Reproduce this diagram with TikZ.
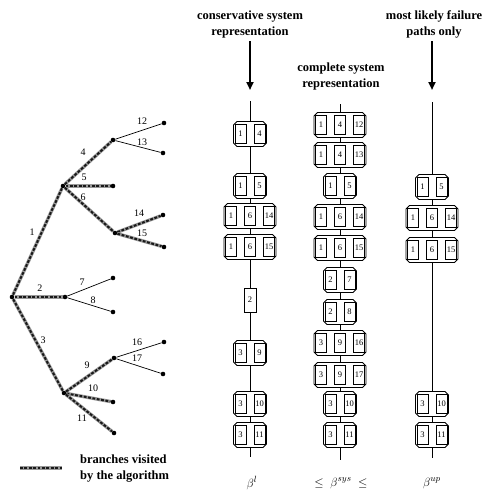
\documentclass[tikz,border=0pt]{standalone}
\usepackage{fontspec}
\setmainfont{Liberation Serif}
\usetikzlibrary{arrows.meta}
\newcommand\frm[4]{%
  \draw[frame] (#1-#3+3.5,#2-#4) -- (#1+#3-3.5,#2-#4) -- (#1+#3,#2-#4+3.5) -- (#1+#3,#2+#4-3.5) -- (#1+#3-3.5,#2+#4) -- (#1-#3+3.5,#2+#4) -- (#1-#3,#2+#4-3.5) -- (#1-#3,#2-#4+3.5) -- cycle;}
\newcommand\pbI[4]{%
  \draw[frame] (#2-6,#3-12) rectangle (#2+6,#3+12);
  \node[comptext] (#1a) at (#2,#3) {#4};}
\newcommand\pbII[5]{%
  \frm{#2}{#3}{16.5}{12.5}
  \node[comp] (#1a) at (#2-9.5,#3) {#4};
  \node[comp] (#1b) at (#2+9.5,#3) {#5};}
\newcommand\pbIII[6]{%
  \frm{#2}{#3}{26}{12.5}
  \node[comp] (#1a) at (#2-19,#3) {#4};
  \node[comp] (#1b) at (#2,#3) {#5};
  \node[comp] (#1c) at (#2+19,#3) {#6};}
\begin{document}
\begin{tikzpicture}[x=1pt,y=-1pt,
  dot/.style={circle,fill=black,inner sep=0,minimum size=4.6},
  thinedge/.style={line width=0.7},
  visited/.style={line width=3.4, draw=black!40, postaction={draw=black!90, line width=2, dash pattern=on 2.8 off 1.6}},
  lbl/.style={font=\fontsize{10}{10}\selectfont, inner sep=0},
  frame/.style={draw, fill=white, line width=0.75},
  comp/.style={draw, fill=white, line width=0.75, minimum width=11, minimum height=19.5, inner sep=0, font=\fontsize{8.5}{8.5}\selectfont},
  comptext/.style={inner sep=0, font=\fontsize{8.5}{8.5}\selectfont},
  head/.style={font=\bfseries\fontsize{12.5}{16}\selectfont, align=center, inner sep=0},
  bigarrow/.style={line width=2, -{Triangle[width=7,length=8]}},
  sysline/.style={line width=0.8},
  beta/.style={font=\fontsize{13}{13}\selectfont, inner sep=0}
]
\useasboundingbox (0,0) rectangle (486,493);
\fill[white] (0,0) rectangle (486,493);

% ---------------- tree ----------------
\node[dot] (R) at (12,297) {};
\node[dot] (A) at (63,186) {};
\node[dot] (B) at (113,140) {};
\node[dot] (L12) at (164,123) {};
\node[dot] (L13) at (163,153) {};
\node[dot] (L5) at (113,186) {};
\node[dot] (C) at (115,233) {};
\node[dot] (L14) at (163,215) {};
\node[dot] (L15) at (164,247) {};
\node[dot] (D) at (65,297) {};
\node[dot] (L7) at (113,278) {};
\node[dot] (L8) at (113,312) {};
\node[dot] (E) at (64,393) {};
\node[dot] (F) at (114,358) {};
\node[dot] (L16) at (164,342) {};
\node[dot] (L17) at (163,374) {};
\node[dot] (L10) at (113,402) {};
\node[dot] (L11) at (114,433) {};

\draw[visited] (R) -- (A);
\draw[visited] (A) -- (B);
\draw[visited] (A) -- (L5);
\draw[visited] (A) -- (C);
\draw[visited] (C) -- (L14);
\draw[visited] (C) -- (L15);
\draw[visited] (R) -- (D);
\draw[visited] (R) -- (E);
\draw[visited] (E) -- (F);
\draw[visited] (E) -- (L10);
\draw[visited] (E) -- (L11);
\draw[thinedge] (B) -- (L12);
\draw[thinedge] (B) -- (L13);
\draw[thinedge] (D) -- (L7);
\draw[thinedge] (D) -- (L8);
\draw[thinedge] (F) -- (L16);
\draw[thinedge] (F) -- (L17);

\node[lbl] (t1) at (32,232) {1};
\node[lbl] (t2) at (40,288) {2};
\node[lbl] (t3) at (43,340) {3};
\node[lbl] (t4) at (83,152) {4};
\node[lbl] (t5) at (84,177) {5};
\node[lbl] (t6) at (83,197) {6};
\node[lbl] (t7) at (82,282) {7};
\node[lbl] (t8) at (93,300) {8};
\node[lbl] (t9) at (87,365) {9};
\node[lbl] (t10) at (93,388) {10};
\node[lbl] (t11) at (82,418) {11};
\node[lbl] (t12) at (142,121) {12};
\node[lbl] (t13) at (142,142) {13};
\node[lbl] (t14) at (139,213) {14};
\node[lbl] (t15) at (142,233) {15};
\node[lbl] (t16) at (137,342) {16};
\node[lbl] (t17) at (137,358) {17};

% legend
\coordinate (lg1) at (20,468);
\coordinate (lg2) at (62,468);
\draw[visited] (lg1) -- (lg2);
\node[head, anchor=west, align=left] (lgt) at (80,469) {branches visited\\by the algorithm};

% ---------------- headers ----------------
\node[head] (h1) at (250,24) {conservative system\\representation};
\node[head] (h2) at (341,76) {complete system\\representation};
\node[head] (h3) at (434,24) {most likely failure\\paths only};
\coordinate (a1s) at (250,41);
\coordinate (a1e) at (250,90);
\coordinate (a3s) at (432,41);
\coordinate (a3e) at (432,90);
\draw[bigarrow] (a1s) -- (a1e);
\draw[bigarrow] (a3s) -- (a3e);

% ---------------- system lines ----------------
\coordinate (c1t) at (250,101);
\coordinate (c1b) at (250,457);
\coordinate (c2t) at (340,104);
\coordinate (c2b) at (340,460);
\coordinate (c3t) at (432,102);
\coordinate (c3b) at (432,458);
\draw[sysline] (c1t) -- (c1b);
\draw[sysline] (c2t) -- (c2b);
\draw[sysline] (c3t) -- (c3b);

% column 1: conservative
\pbII{pa}{250}{134}{1}{4}
\pbII{pb}{250}{186}{1}{5}
\pbIII{pc}{250}{216}{1}{6}{14}
\pbIII{pd}{250}{247}{1}{6}{15}
\pbI{pe}{250}{300}{2}
\pbII{pf}{250}{353}{3}{9}
\pbII{pg}{250}{404}{3}{10}
\pbII{ph}{250}{435}{3}{11}

% column 2: complete
\pbIII{qa}{340}{125}{1}{4}{12}
\pbIII{qb}{340}{155}{1}{4}{13}
\pbII{qc}{340}{186}{1}{5}
\pbIII{qd}{340}{217}{1}{6}{14}
\pbIII{qe}{340}{248}{1}{6}{15}
\pbII{qf}{340}{280}{2}{7}
\pbII{qg}{340}{312}{2}{8}
\pbIII{qh}{340}{343}{3}{9}{16}
\pbIII{qi}{340}{375}{3}{9}{17}
\pbII{qj}{340}{404}{3}{10}
\pbII{qk}{340}{435}{3}{11}

% column 3: most likely
\pbII{ra}{432}{187}{1}{5}
\pbIII{rb}{432}{218}{1}{6}{14}
\pbIII{rc}{432}{250}{1}{6}{15}
\pbII{rd}{432}{404}{3}{10}
\pbII{re}{432}{435}{3}{11}

% ---------------- bottom labels ----------------
\node[beta] (b1) at (252,483) {$\beta^{l}$};
\node[beta] (b2) at (341,483) {$\leq\ \beta^{sys}\ \leq$};
\node[beta] (b3) at (432,483) {$\beta^{up}$};
\end{tikzpicture}
\end{document}
